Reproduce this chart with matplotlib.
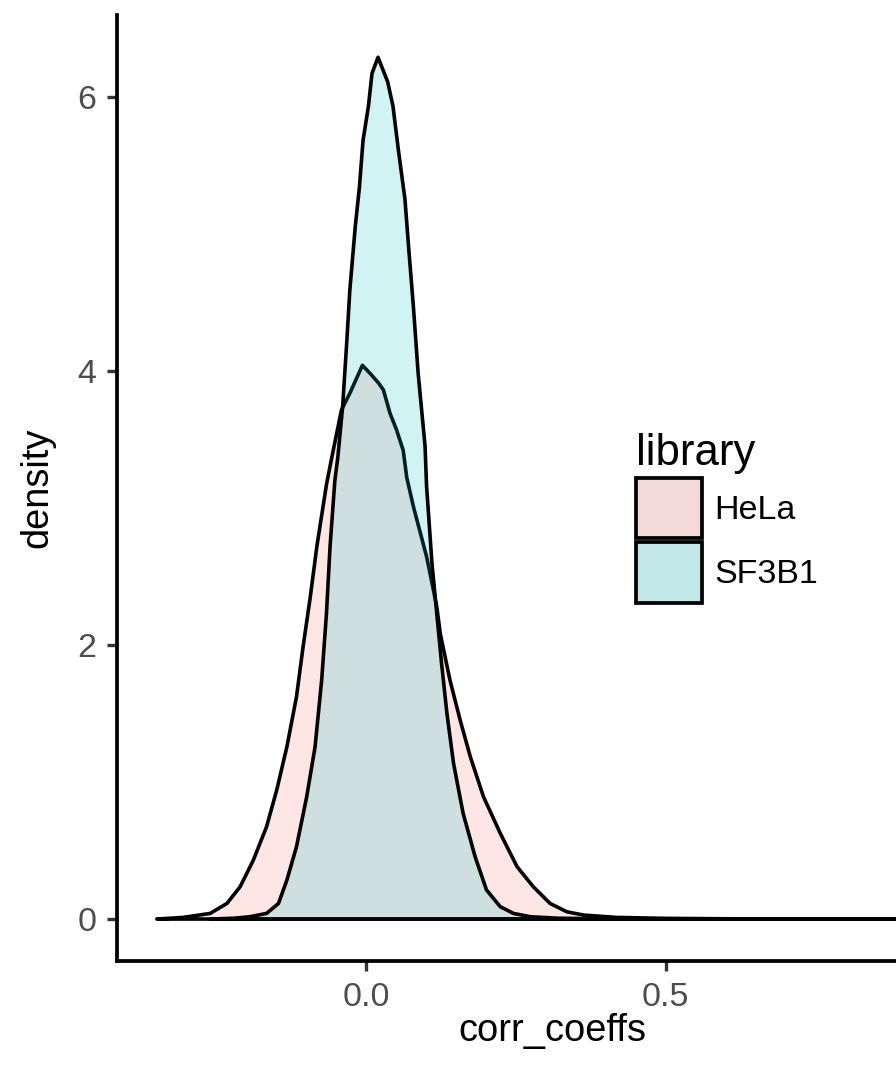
import matplotlib
matplotlib.use('Agg')
import matplotlib.pyplot as plt
from matplotlib.patches import Patch
import numpy as np

plt.rcParams['font.family'] = ['Liberation Sans', 'DejaVu Sans']

# density curves
hela_x = [-0.349, -0.305, -0.26, -0.232, -0.21, -0.188, -0.166, -0.149, -0.132,
          -0.116, -0.105, -0.093, -0.082, -0.066, -0.057, -0.041, -0.027, -0.006,
          0.007, 0.021, 0.029, 0.040, 0.051, 0.062, 0.068, 0.079, 0.101, 0.118,
          0.124, 0.140, 0.157, 0.174, 0.196, 0.224, 0.252, 0.279, 0.307, 0.335,
          0.363, 0.418, 0.50, 0.60, 0.75, 0.972]
hela_y = [0.0, 0.012, 0.041, 0.114, 0.236, 0.43, 0.673, 0.941, 1.257,
          1.622, 1.987, 2.35, 2.72, 3.17, 3.37, 3.714, 3.836, 4.04,
          3.98, 3.91, 3.86, 3.69, 3.568, 3.42, 3.22, 3.01, 2.645, 2.28,
          2.08, 1.744, 1.452, 1.184, 0.892, 0.625, 0.382, 0.236, 0.114, 0.053,
          0.029, 0.012, 0.005, 0.002, 0.001, 0.0]

sf3b1_x = [-0.26, -0.22, -0.194, -0.166, -0.146, -0.132, -0.116, -0.099, -0.085,
           -0.074, -0.066, -0.060, -0.052, -0.047, -0.039, -0.032, -0.027, -0.018,
           -0.011, -0.005, 0.004, 0.010, 0.020, 0.036, 0.045, 0.054, 0.065, 0.071,
           0.079, 0.087, 0.0985, 0.101, 0.110, 0.118, 0.126, 0.135, 0.146, 0.162,
           0.182, 0.201, 0.224, 0.246, 0.274, 0.32, 0.40, 0.55]
sf3b1_y = [0.0, 0.006, 0.017, 0.041, 0.114, 0.285, 0.528, 0.892, 1.257,
           1.744, 2.23, 2.72, 3.20, 3.37, 3.74, 4.22, 4.59, 5.05,
           5.34, 5.68, 5.93, 6.17, 6.287, 6.11, 5.93, 5.61, 5.25, 4.905,
           4.47, 3.98, 3.45, 3.16, 2.595, 2.23, 1.866, 1.50, 1.136, 0.771,
           0.455, 0.212, 0.09, 0.041, 0.017, 0.006, 0.002, 0.0]

libraries = ['HeLa', 'SF3B1']
fills = ['#F8766D', '#00BFC4']
alpha = 0.18

x_ticks = [0.0, 0.5]
x_tick_labels = ['0.0', '0.5']
y_ticks = [0, 2, 4, 6]
y_tick_labels = ['0', '2', '4', '6']

fig = plt.figure(figsize=(8.96, 10.68), dpi=100)
ax = fig.add_axes([0.1309, 0.1002, 0.9713, 0.8858])

curves = [(hela_x, hela_y), (sf3b1_x, sf3b1_y)]
for (cx, cy), col in zip(curves, fills):
    rgba = matplotlib.colors.to_rgba(col, alpha)
    ax.fill(cx, cy, facecolor=rgba, edgecolor='black', lw=2.6, joinstyle='round')

ax.set_xlim(-0.415, 1.037)
ax.set_ylim(-0.306, 6.596)

for s in ['top', 'right']:
    ax.spines[s].set_visible(False)
for s in ['left', 'bottom']:
    ax.spines[s].set_linewidth(2.7)
    ax.spines[s].set_color('black')

ax.set_xticks(x_ticks, x_tick_labels)
ax.set_yticks(y_ticks, y_tick_labels)
ax.tick_params(axis='both', length=7, width=2.4, color='#333333',
               labelsize=24.5, labelcolor='#4D4D4D', pad=8)

ax.set_xlabel('corr_coeffs', fontsize=27.4, labelpad=0)
ax.set_ylabel('density', fontsize=27.4, labelpad=16)

# legend keys sit on a grey95 background
bg = np.array(matplotlib.colors.to_rgb('#F2F2F2'))
handles = []
for lib, col in zip(libraries, fills):
    c = np.array(matplotlib.colors.to_rgb(col))
    handles.append(Patch(facecolor=0.2 * c + 0.8 * bg,
                         edgecolor='black', lw=2.7, label=lib))
leg = ax.legend(handles=handles, title='library', loc='upper left',
                bbox_to_anchor=(636 / 896, 1 - 433 / 1068),
                bbox_transform=fig.transFigure, frameon=False,
                fontsize=24.5, title_fontsize=31.5, alignment='left',
                handlelength=1.95, handleheight=2.35, handletextpad=0.35,
                labelspacing=0.12, borderpad=0, borderaxespad=0)

fig.savefig('out.png', dpi=100)
